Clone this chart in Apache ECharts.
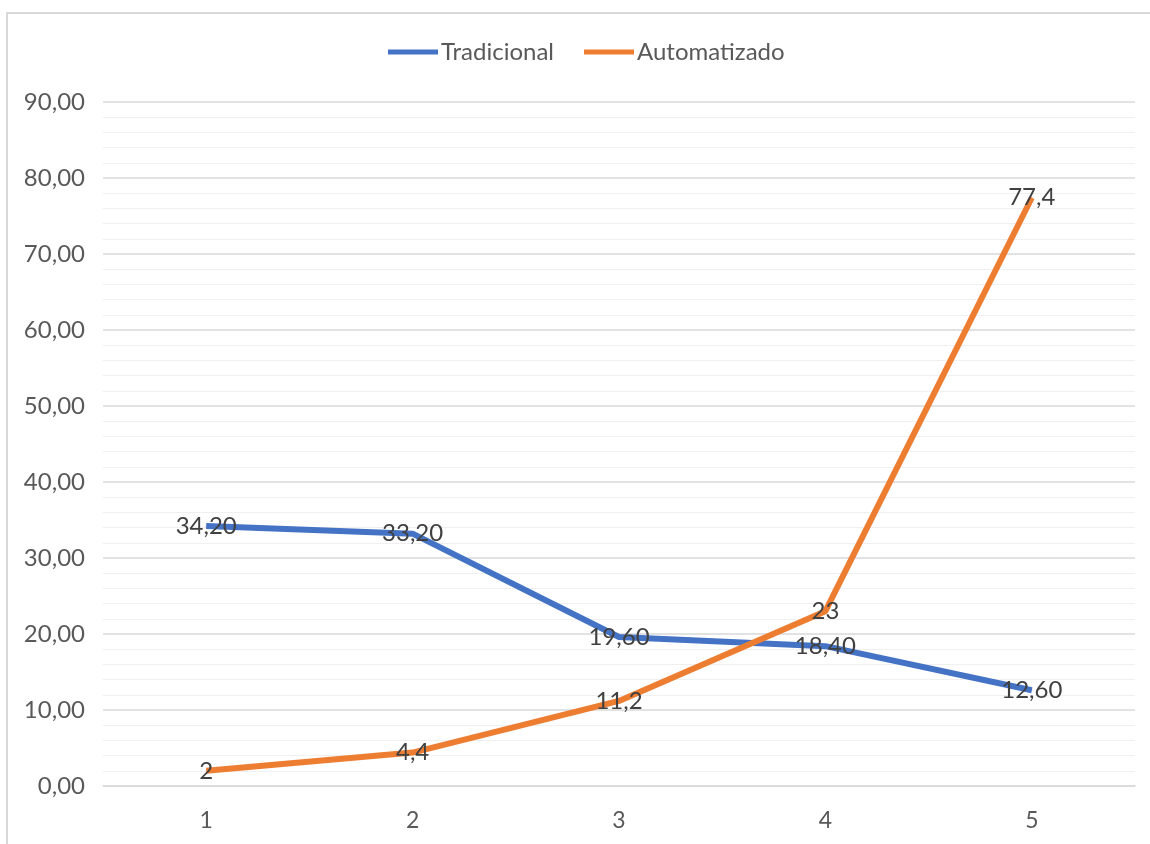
<!DOCTYPE html>
<html>
<head>
<meta charset="utf-8">
<script src="https://cdn.jsdelivr.net/npm/echarts@6/dist/echarts.min.js"></script>
<style>
  html, body { margin: 0; padding: 0; background: #ffffff; }
  #chart { width: 1150px; height: 844px; }
</style>
</head>
<body>
<div id="chart"></div>
<script>
// Data
const categories = ['1', '2', '3', '4', '5'];
const tradicional = [34.2, 33.2, 19.6, 18.4, 12.6];
const automatizado = [2, 4.4, 11.2, 23, 77.4];
const seriesNames = ['Tradicional', 'Automatizado'];

const FONT = 'Lato, "Open Sans", sans-serif';
const comma = (s) => String(s).replace('.', ',');

const chart = echarts.init(document.getElementById('chart'), null, { renderer: 'canvas' });

function labelStyle(fmt) {
  return {
    show: true,
    position: 'inside',
    color: '#404040',
    fontFamily: FONT,
    fontSize: 24,
    formatter: (p) => fmt(p.value)
  };
}

chart.setOption({
  backgroundColor: '#ffffff',
  animation: false,
  graphic: [{
    type: 'rect',
    shape: { x: 7, y: 13, width: 1200, height: 900 },
    style: { fill: 'none', stroke: '#d9d9d9', lineWidth: 2 },
    silent: true,
    z: -10
  }],
  legend: {
    top: 35,
    left: 383,
    icon: 'rect',
    itemWidth: 50,
    itemHeight: 5,
    itemGap: 30,
    textStyle: { color: '#595959', fontFamily: FONT, fontSize: 24, padding: [0, 0, 0, -2] },
    data: seriesNames
  },
  grid: { left: 103, right: 15, top: 102, bottom: 58, containLabel: false },
  xAxis: {
    type: 'category',
    data: categories,
    boundaryGap: true,
    axisLine: { show: true, lineStyle: { color: '#d9d9d9', width: 1.5 } },
    axisTick: { show: false },
    axisLabel: { color: '#595959', fontFamily: FONT, fontSize: 23, margin: 23 }
  },
  yAxis: {
    type: 'value',
    min: 0,
    max: 90,
    interval: 10,
    axisLine: { show: false },
    axisTick: { show: false },
    axisLabel: {
      color: '#595959', fontFamily: FONT, fontSize: 24, margin: 18,
      formatter: (v) => comma(v.toFixed(2))
    },
    splitLine: { lineStyle: { color: '#d9d9d9', width: 1.5 } },
    minorTick: { show: false, splitNumber: 5 },
    minorSplitLine: { show: true, lineStyle: { color: '#f0f0f0', width: 1 } }
  },
  series: [
    {
      name: seriesNames[0],
      type: 'line',
      data: tradicional,
      symbol: 'circle',
      symbolSize: 1,
      lineStyle: { color: '#4472C4', width: 6 },
      itemStyle: { color: '#4472C4' },
      label: labelStyle((v) => comma(v.toFixed(2))),
      z: 2
    },
    {
      name: seriesNames[1],
      type: 'line',
      data: automatizado,
      symbol: 'circle',
      symbolSize: 1,
      lineStyle: { color: '#ED7D31', width: 6 },
      itemStyle: { color: '#ED7D31' },
      label: labelStyle((v) => comma(v)),
      z: 3
    }
  ]
});
</script>
</body>
</html>
